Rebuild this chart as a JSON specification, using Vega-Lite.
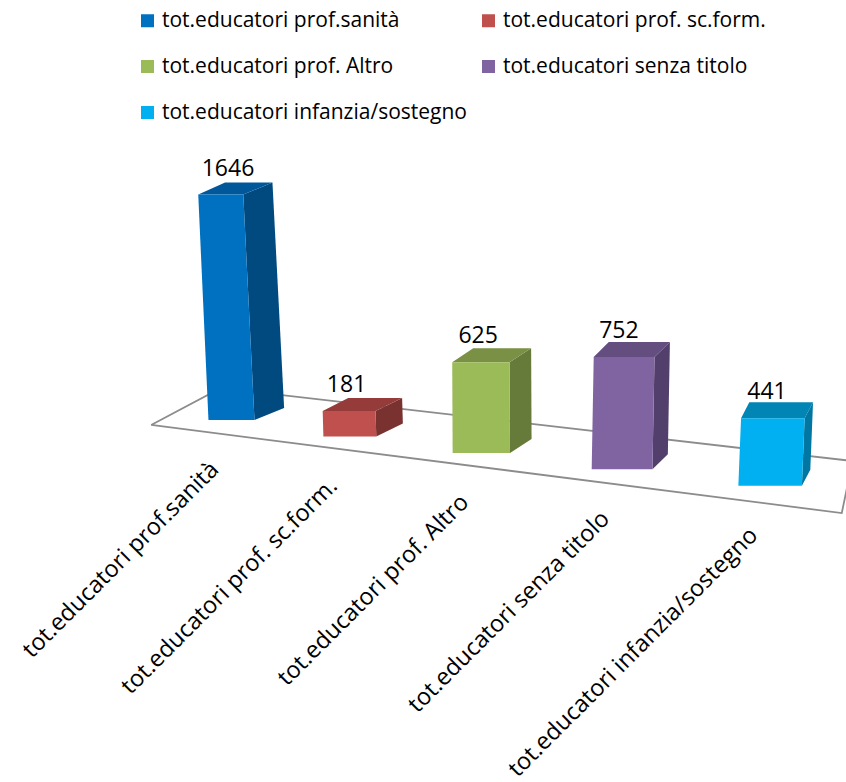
{
  "$schema": "https://vega.github.io/schema/vega-lite/v6.json",
  "width": 846,
  "height": 782,
  "autosize": "none",
  "padding": 0,
  "background": "white",
  "config": {"view": {"stroke": null}},
  "datasets": {
    "educatori": [
      {"categoria": "tot.educatori prof.sanità", "rank": 1, "value": 1646},
      {"categoria": "tot.educatori prof. sc.form.", "rank": 2, "value": 181},
      {"categoria": "tot.educatori prof. Altro", "rank": 3, "value": 625},
      {"categoria": "tot.educatori senza titolo", "rank": 4, "value": 752},
      {"categoria": "tot.educatori infanzia/sostegno", "rank": 5, "value": 441}
    ],
    "pavimento": [
      {"corner": 0, "rank": 0.178, "level": -36},
      {"corner": 1, "rank": 0.908, "level": 234},
      {"corner": 2, "rank": 5.54, "level": -299},
      {"corner": 3, "rank": 5.47, "level": -679},
      {"corner": 4, "rank": 0.178, "level": -36}
    ]
  },
  "layer": [
    {
      "data": {"name": "pavimento"},
      "mark": {"type": "line", "stroke": "#8c8c8c", "strokeWidth": 1.8, "clip": true},
      "encoding": {
        "x": {"field": "rank", "type": "quantitative", "axis": null,
              "scale": {"type": "pow", "exponent": 1.2, "domain": [1, 5], "range": [231, 770], "nice": false, "zero": false}},
        "y": {"field": "level", "type": "quantitative", "axis": null,
              "scale": {"domain": [-2642, 3066], "nice": false, "zero": false}},
        "order": {"field": "corner", "type": "quantitative"}
      }
    },
    {
      "data": {"name": "educatori"},
      "transform": [
        {"calculate": "-120 * (datum.rank - 1)", "as": "base"},
        {"calculate": "datum.value * (1 + 0.03 * (datum.rank - 1))", "as": "h"},
        {"calculate": "datum.base + datum.h", "as": "top"},
        {"calculate": "datum.h * 0.137 * 0.022 * (datum.rank - 3.2) / (110 + 10 * (datum.rank - 1))", "as": "lean"},
        {"calculate": "0.305 - 0.05 * datum.rank", "as": "d"},
        {"calculate": "(11 + datum.rank) / 0.137", "as": "rise"},
        {"calculate": "datum.rank + 0.21", "as": "xb"},
        {"calculate": "[datum.xb, datum.xb + datum.lean, datum.xb + datum.lean + datum.d, datum.xb + datum.d]", "as": "px"},
        {"calculate": "[datum.base, datum.top, datum.top + datum.rise, datum.base + datum.rise]", "as": "py"},
        {"calculate": "[0, 1, 2, 3]", "as": "corner"},
        {"flatten": ["px", "py", "corner"]}
      ],
      "mark": {"type": "line", "strokeWidth": 0, "interpolate": "linear"},
      "encoding": {
        "x": {"field": "px", "type": "quantitative", "axis": null, "scale": {"type": "pow", "exponent": 1.2, "domain": [1, 5], "range": [231, 770], "nice": false, "zero": false}},
        "y": {"field": "py", "type": "quantitative", "axis": null, "scale": {"domain": [-2642, 3066], "nice": false, "zero": false}},
        "fill": {"field": "categoria", "type": "nominal", "legend": null,
                 "scale": {"domain": ["tot.educatori prof.sanità", "tot.educatori prof. sc.form.", "tot.educatori prof. Altro", "tot.educatori senza titolo", "tot.educatori infanzia/sostegno"],
                           "range": ["#004A80", "#7A3230", "#667A3A", "#533F6B", "#0077A3"]}},
        "order": {"field": "corner", "type": "quantitative"}
      }
    },
    {
      "data": {"name": "educatori"},
      "transform": [
        {"calculate": "-120 * (datum.rank - 1)", "as": "base"},
        {"calculate": "datum.value * (1 + 0.03 * (datum.rank - 1))", "as": "h"},
        {"calculate": "datum.base + datum.h", "as": "top"},
        {"calculate": "datum.h * 0.137 * 0.022 * (datum.rank - 3.2) / (110 + 10 * (datum.rank - 1))", "as": "lean"},
        {"calculate": "0.305 - 0.05 * datum.rank", "as": "d"},
        {"calculate": "(11 + datum.rank) / 0.137", "as": "rise"},
        {"calculate": "datum.rank - 0.21 + datum.lean", "as": "xl"},
        {"calculate": "datum.rank + 0.21 + datum.lean", "as": "xr"},
        {"calculate": "[datum.xl, datum.xr, datum.xr + datum.d, datum.xl + datum.d]", "as": "px"},
        {"calculate": "[datum.top, datum.top, datum.top + datum.rise, datum.top + datum.rise]", "as": "py"},
        {"calculate": "[0, 1, 2, 3]", "as": "corner"},
        {"flatten": ["px", "py", "corner"]}
      ],
      "mark": {"type": "line", "strokeWidth": 0},
      "encoding": {
        "x": {"field": "px", "type": "quantitative", "axis": null, "scale": {"type": "pow", "exponent": 1.2, "domain": [1, 5], "range": [231, 770], "nice": false, "zero": false}},
        "y": {"field": "py", "type": "quantitative", "axis": null, "scale": {"domain": [-2642, 3066], "nice": false, "zero": false}},
        "fill": {"field": "categoria", "type": "nominal", "legend": null,
                 "scale": {"domain": ["tot.educatori prof.sanità", "tot.educatori prof. sc.form.", "tot.educatori prof. Altro", "tot.educatori senza titolo", "tot.educatori infanzia/sostegno"],
                           "range": ["#00589A", "#953C3A", "#7A9045", "#644E80", "#0085B5"]}},
        "order": {"field": "corner", "type": "quantitative"}
      }
    },
    {
      "data": {"name": "educatori"},
      "transform": [
        {"calculate": "-120 * (datum.rank - 1)", "as": "base"},
        {"calculate": "datum.value * (1 + 0.03 * (datum.rank - 1))", "as": "h"},
        {"calculate": "datum.base + datum.h", "as": "top"},
        {"calculate": "datum.h * 0.137 * 0.022 * (datum.rank - 3.2) / (110 + 10 * (datum.rank - 1))", "as": "lean"},
        {"calculate": "[datum.rank - 0.21, datum.rank + 0.21, datum.rank + 0.21 + datum.lean, datum.rank - 0.21 + datum.lean]", "as": "px"},
        {"calculate": "[datum.base, datum.base, datum.top, datum.top]", "as": "py"},
        {"calculate": "[0, 1, 2, 3]", "as": "corner"},
        {"flatten": ["px", "py", "corner"]}
      ],
      "mark": {"type": "line", "strokeWidth": 0},
      "encoding": {
        "x": {"field": "px", "type": "quantitative", "axis": null, "scale": {"type": "pow", "exponent": 1.2, "domain": [1, 5], "range": [231, 770], "nice": false, "zero": false}},
        "y": {"field": "py", "type": "quantitative", "axis": null, "scale": {"domain": [-2642, 3066], "nice": false, "zero": false}},
        "fill": {"field": "categoria", "type": "nominal",
                 "scale": {"domain": ["tot.educatori prof.sanità", "tot.educatori prof. sc.form.", "tot.educatori prof. Altro", "tot.educatori senza titolo", "tot.educatori infanzia/sostegno"],
                           "range": ["#0070C0", "#C0504D", "#9BBB59", "#8064A2", "#00B0F0"]},
                 "legend": {"orient": "none", "legendX": 137, "legendY": 10, "direction": "horizontal", "columns": 2, "title": null,
                            "symbolType": "square", "symbolSize": 169, "symbolStrokeWidth": 0, "symbolOpacity": 1,
                            "labelFont": "Open Sans", "labelFontSize": 21, "labelColor": "#000000", "labelLimit": 400,
                            "labelOffset": 4, "columnPadding": 11, "rowPadding": 24}},
        "order": {"field": "corner", "type": "quantitative"}
      }
    },
    {
      "data": {"name": "educatori"},
      "transform": [
        {"calculate": "-120 * (datum.rank - 1) + datum.value * (1 + 0.03 * (datum.rank - 1))", "as": "top"}
      ],
      "mark": {"type": "text", "font": "Open Sans", "fontSize": 23, "color": "#000000", "align": "center", "baseline": "middle", "xOffset": -3, "yOffset": -26},
      "encoding": {
        "x": {"field": "rank", "type": "quantitative", "axis": null, "scale": {"type": "pow", "exponent": 1.2, "domain": [1, 5], "range": [231, 770], "nice": false, "zero": false}},
        "y": {"field": "top", "type": "quantitative", "axis": null, "scale": {"domain": [-2642, 3066], "nice": false, "zero": false}},
        "text": {"field": "value", "type": "quantitative"}
      }
    },
    {
      "data": {"name": "educatori"},
      "transform": [
        {"calculate": "-120 * (datum.rank - 1)", "as": "base"}
      ],
      "mark": {"type": "text", "font": "Open Sans", "fontSize": 23.5, "color": "#000000", "align": "right", "baseline": "middle", "angle": 315, "xOffset": -16, "yOffset": 46},
      "encoding": {
        "x": {"field": "rank", "type": "quantitative", "axis": null, "scale": {"type": "pow", "exponent": 1.2, "domain": [1, 5], "range": [231, 770], "nice": false, "zero": false}},
        "y": {"field": "base", "type": "quantitative", "axis": null, "scale": {"domain": [-2642, 3066], "nice": false, "zero": false}},
        "text": {"field": "categoria", "type": "nominal"}
      }
    }
  ],
  "resolve": {"scale": {"fill": "independent"}}
}
